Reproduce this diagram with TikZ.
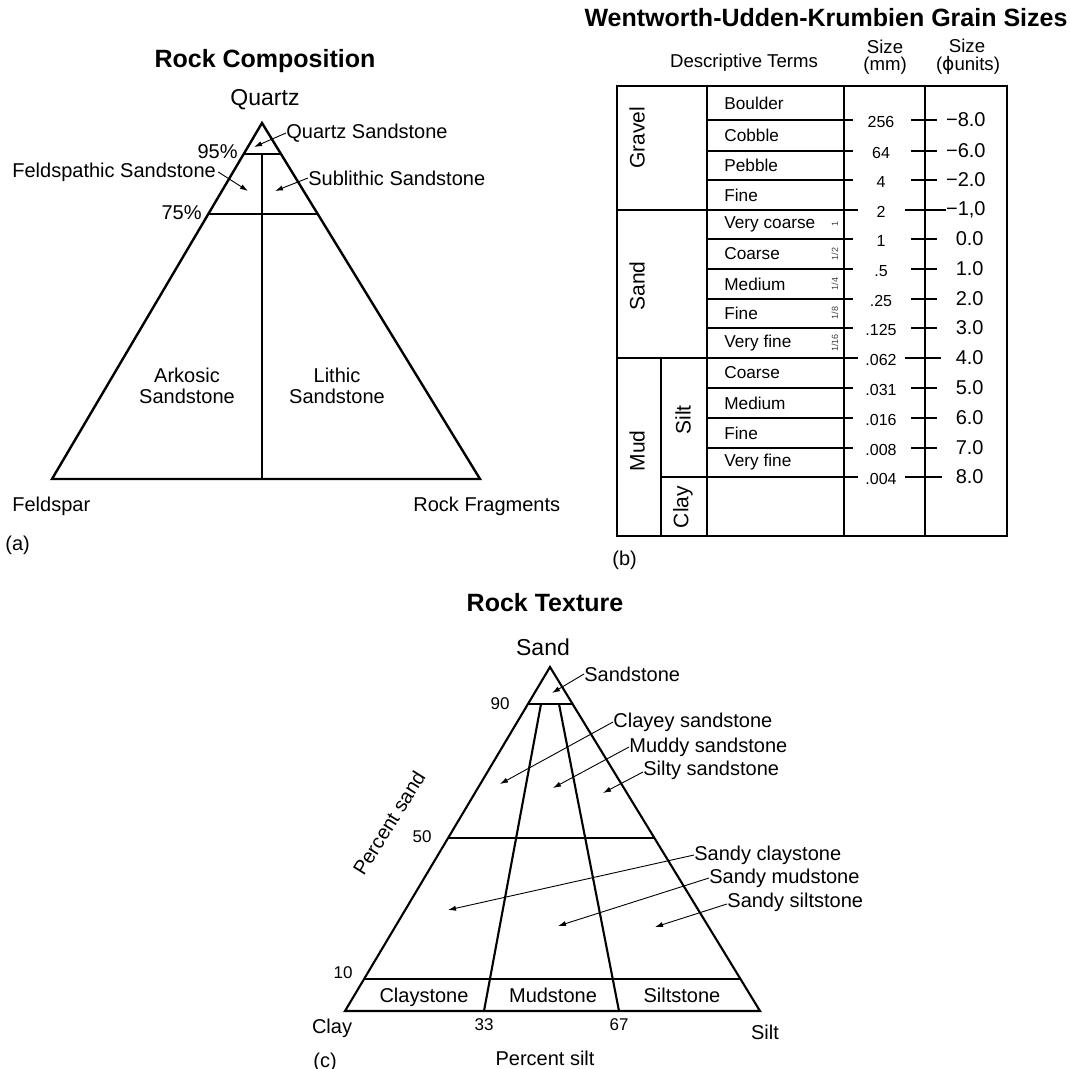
\documentclass[tikz,border=0pt]{standalone}
\usepackage{fontspec}
\setmainfont{Liberation Sans}
\newfontfamily\dvs{DejaVu Sans}
\usetikzlibrary{arrows.meta,calc}
\tikzset{
  lbl/.style={inner sep=0pt,font=\fontsize{10}{11}\selectfont},
  ttl/.style={inner sep=0pt,font=\fontsize{12.5}{14}\selectfont\bfseries},
  vtx/.style={inner sep=0pt,font=\fontsize{11.5}{13}\selectfont},
  hdr/.style={inner sep=0pt,font=\fontsize{9.3}{11}\selectfont},
  num/.style={inner sep=0pt,font=\fontsize{8.5}{10}\selectfont},
  term/.style={inner sep=0pt,font=\fontsize{8.6}{10}\selectfont,anchor=west},
  mmnum/.style={inner sep=0pt,font=\fontsize{8}{9}\selectfont},
  phinum/.style={inner sep=0pt,font=\fontsize{10}{11}\selectfont,anchor=east},
  grp/.style={inner sep=0pt,font=\fontsize{10.5}{12}\selectfont,rotate=90},
  fracl/.style={inner sep=0pt,font=\fontsize{4.5}{5}\selectfont,rotate=90,text=black!75},
  aedge/.style={line width=1.2pt,line join=miter},
  cedge/.style={line width=1.05pt,line join=miter},
  tbl/.style={line width=1.15pt},
  ptr/.style={-{Latex[length=4pt,width=2.6pt]},line width=0.45pt},
}
\begin{document}
\begin{tikzpicture}[x=0.5pt,y=-0.5pt]
\useasboundingbox[fill=white] (0,0) rectangle (1070,1069);

% ---------------- Panel (a) ----------------
\coordinate (aA) at (262,123);
\coordinate (aL) at (52,479);
\coordinate (aR) at (480,479);
\draw[aedge] (aA) -- (aL) -- (aR) -- cycle;
\coordinate (a95l) at ($(aA)!0.087!(aL)$);
\coordinate (a95r) at ($(aA)!0.087!(aR)$);
\coordinate (a75l) at ($(aA)!0.2556!(aL)$);
\coordinate (a75r) at ($(aA)!0.2556!(aR)$);
\draw[aedge] (a95l) -- (a95r);
\draw[aedge] (a75l) -- (a75r);
\draw[aedge] (a95l -| aA) -- (aA |- aL);

\node[ttl] (aT) at (265,61) {Rock Composition};
\node[vtx] (aQ) at (265,100) {Quartz};
\node[lbl,anchor=east] (a95) at (238,152) {95\%};
\node[lbl,anchor=east] (a75) at (202,213) {75\%};
\node[lbl,anchor=west] (aqs) at (286,133) {Quartz Sandstone};
\node[lbl,anchor=west] (afs) at (12,172) {Feldspathic Sandstone};
\node[lbl,anchor=west] (ass) at (308,178) {Sublithic Sandstone};
\coordinate (aqsT) at (254,147);
\coordinate (afsT) at (248,191);
\coordinate (assT) at (275,191);
\draw[ptr] (aqs.west) -- (aqsT);
\draw[ptr] ([xshift=1pt]afs.east) -- (afsT);
\draw[ptr] (ass.west) -- (assT);
\node[lbl,align=center,font=\fontsize{10}{10.5}\selectfont] (aark) at (187,386) {Arkosic\\Sandstone};
\node[lbl,align=center,font=\fontsize{10}{10.5}\selectfont] (alit) at (337,386) {Lithic\\Sandstone};
\node[lbl,anchor=west] (afe) at (12,506) {Feldspar};
\node[lbl,anchor=west] (arf) at (413,506) {Rock Fragments};
\node[lbl,anchor=west] (alab) at (5,545) {(a)};

% ---------------- Panel (b) ----------------
\node[ttl] (bT) at (826,18) {Wentworth-Udden-Krumbien Grain Sizes};
\node[hdr] (bh1) at (744,63) {Descriptive Terms};
\node[hdr] (bh2) at (885,47) {Size};
\node[hdr] (bh3) at (885,66) {(mm)};
\node[hdr] (bh4) at (967,46) {Size};
\node[hdr] (bh5) at (968,65) {({\dvs ϕ}units)};

\draw[tbl] (617,86) rectangle (1007,536);
\draw[tbl] (707,86) -- (707,536);
\draw[tbl] (844,86) -- (844,536);
\draw[tbl] (925,86) -- (925,536);
\draw[tbl] (661,358) -- (661,536);
\foreach \y in {120,151,180,239,269,299,328,388,418,448}
  \draw[tbl] (707,\y) -- (853,\y);
\foreach \y in {210,358}
  \draw[tbl] (617,\y) -- (858,\y);
\draw[tbl] (661,477) -- (858,477);
\foreach \y in {120,151,180,239,269,299,328,388,418,448}
  \draw[tbl] (911,\y) -- (937,\y);
\draw[tbl] (905,210) -- (946,210);
\draw[tbl] (905,358) -- (941,358);
\draw[tbl] (905,477) -- (942,477);

\foreach \t/\y [count=\i] in {Boulder/103,Cobble/135,Pebble/165,Fine/195,Very coarse/224,Coarse/254,Medium/284,Fine/313,Very fine/343,Coarse/373,Medium/403,Fine/433,Very fine/462}
  \node[term] (bt\i) at (724,\y) {\t};

\foreach \v/\y [count=\i] in {256/120,64/151,4/180,2/210,1/239,.5/269,.25/299,.125/328,.062/358,.031/388,.016/418,.008/448,.004/477}
  \node[mmnum] (bm\i) at (881,\y+2) {\v};

\node[phinum] (bp1) at (986,120) {−8.0};
\node[phinum] (bp2) at (986,151) {−6.0};
\node[phinum] (bp3) at (986,180) {−2.0};
\node[phinum] (bp4) at (986,210) {−1,0};
\node[phinum] (bp5) at (984,239) {0.0};
\node[phinum] (bp6) at (984,269) {1.0};
\node[phinum] (bp7) at (984,299) {2.0};
\node[phinum] (bp8) at (984,328) {3.0};
\node[phinum] (bp9) at (984,358) {4.0};
\node[phinum] (bp10) at (984,388) {5.0};
\node[phinum] (bp11) at (984,418) {6.0};
\node[phinum] (bp12) at (984,448) {7.0};
\node[phinum] (bp13) at (984,477) {8.0};

\node[grp] (bgr) at (637,138) {Gravel};
\node[grp] (bsa) at (637,286) {Sand};
\node[grp] (bmu) at (637,451) {Mud};
\node[grp] (bsi) at (683,420) {Silt};
\node[grp] (bcl) at (683,507) {Clay};

\node[fracl] (bf1) at (835,224) {1};
\node[fracl] (bf2) at (835,254) {1/2};
\node[fracl] (bf3) at (835,284) {1/4};
\node[fracl] (bf4) at (835,313) {1/8};
\node[fracl] (bf5) at (835,343) {1/16};

\node[lbl,anchor=west] (blab) at (612,560) {(b)};

% ---------------- Panel (c) ----------------
\coordinate (cA) at (550,667);
\coordinate (cL) at (345,1011);
\coordinate (cR) at (760,1011);
\draw[cedge] (cA) -- (cL) -- (cR) -- cycle;
\coordinate (c90l) at ($(cA)!0.1076!(cL)$);
\coordinate (c90r) at ($(cA)!0.1076!(cR)$);
\coordinate (c50l) at ($(cA)!0.4971!(cL)$);
\coordinate (c50r) at ($(cA)!0.4971!(cR)$);
\coordinate (c10l) at ($(cA)!0.907!(cL)$);
\coordinate (c10r) at ($(cA)!0.907!(cR)$);
\draw[cedge] (c90l) -- (c90r);
\draw[cedge] (c50l) -- (c50r);
\draw[cedge] (c10l) -- (c10r);
\coordinate (c33t) at (541,704);
\coordinate (c33b) at (484,1011);
\coordinate (c67t) at (559,704);
\coordinate (c67b) at (619,1011);
\draw[cedge] (c33t) -- (c33b);
\draw[cedge] (c67t) -- (c67b);

\node[ttl] (cT) at (545,603) {Rock Texture};
\node[vtx] (cS) at (543,647) {Sand};
\node[lbl,anchor=west] (css) at (584,674) {Sandstone};
\node[lbl,anchor=west] (ccs) at (613,722) {Clayey sandstone};
\node[lbl,anchor=west] (cms) at (629,747) {Muddy sandstone};
\node[lbl,anchor=west] (cis) at (643,770) {Silty sandstone};
\node[lbl,anchor=west] (cyc) at (694,855) {Sandy claystone};
\node[lbl,anchor=west] (cym) at (709,878) {Sandy mudstone};
\node[lbl,anchor=west] (cyi) at (727,902) {Sandy siltstone};
\coordinate (cssT) at (552,693);
\coordinate (ccsT) at (500,784);
\coordinate (cmsT) at (553,788);
\coordinate (cisT) at (603,793);
\coordinate (cycT) at (448,910);
\coordinate (cymT) at (558,926);
\coordinate (cyiT) at (655,927);
\draw[ptr] (css.west) -- (cssT);
\draw[ptr] (ccs.west) -- (ccsT);
\draw[ptr] (cms.west) -- (cmsT);
\draw[ptr] ([yshift=-1pt]cis.west) -- (cisT);
\draw[ptr] (cyc.west) -- (cycT);
\draw[ptr] (cym.west) -- (cymT);
\draw[ptr] ([yshift=-1pt]cyi.west) -- (cyiT);

\node[lbl,anchor=base] (ccl) at (424,1002) {Claystone};
\node[lbl,anchor=base] (cmu) at (553,1002) {Mudstone};
\node[lbl,anchor=base] (cst) at (682,1002) {Siltstone};
\node[num] (c90) at (500,704) {90};
\node[num] (c50) at (422,837) {50};
\node[num] (c10) at (343,973) {10};
\node[num] (c33) at (484,1025) {33};
\node[num] (c67) at (619,1025) {67};
\node[lbl] (cclay) at (332,1028) {Clay};
\node[lbl] (csilt) at (765,1032) {Silt};
\node[lbl,rotate=58] (cps) at (389,823) {Percent sand};
\node[lbl] (cpsi) at (545,1058) {Percent silt};
\node[lbl] (clab) at (325,1062) {(c)};
\end{tikzpicture}
\end{document}
